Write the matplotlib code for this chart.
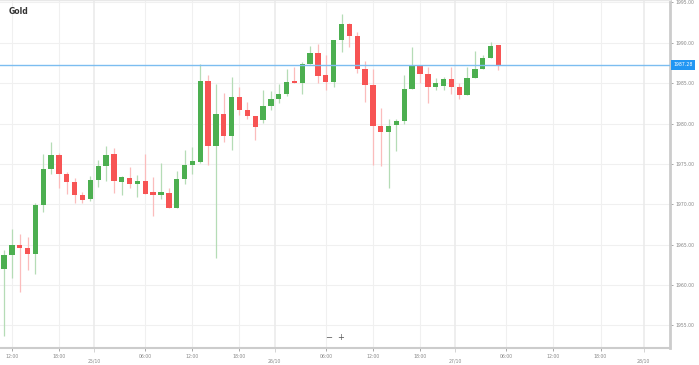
import numpy as np
import pandas as pd
import matplotlib
matplotlib.use("Agg")
import matplotlib.pyplot as plt
import matplotlib.transforms as mtransforms

# hourly OHLC, 24/10 11:00 -> 27/10 05:00 (23:00 hour is the daily break)
opens = [1962.0, 1963.7, 1965.0, 1964.6, 1963.9, 1969.9, 1974.4, 1976.1, 1973.8, 1972.8,
         1971.1, 1970.6, 1973.0, 1974.7, 1976.2, 1972.8, 1973.3, 1972.5, 1972.9, 1971.5,
         1971.2, 1971.4, 1969.6, 1973.1, 1974.9, 1975.2, 1985.3, 1977.2, 1981.2, 1978.4,
         1983.3, 1981.7, 1980.9, 1980.4, 1982.2, 1983.1, 1983.6, 1985.2, 1985.0, 1987.4,
         1988.7, 1986.0, 1985.2, 1990.3, 1992.3, 1990.8, 1986.8, 1984.8, 1979.7, 1979.0,
         1979.8, 1980.3, 1984.3, 1987.1, 1986.1, 1984.5, 1984.7, 1985.5, 1984.5, 1983.5,
         1985.6, 1986.8, 1988.1, 1989.7]
highs = [1964.3, 1966.9, 1966.3, 1966.0, 1970.2, 1976.2, 1977.7, 1976.4, 1974.0, 1973.2,
         1971.5, 1973.5, 1975.5, 1977.2, 1977.0, 1973.5, 1974.6, 1973.6, 1976.2, 1973.4,
         1975.1, 1972.0, 1974.1, 1976.7, 1977.1, 1987.4, 1986.0, 1984.9, 1983.8, 1985.8,
         1984.5, 1982.7, 1980.9, 1984.2, 1984.0, 1984.9, 1986.7, 1987.0, 1987.6, 1989.6,
         1989.9, 1988.5, 1990.4, 1993.6, 1992.4, 1991.3, 1987.7, 1986.8, 1981.9, 1980.5,
         1980.6, 1986.0, 1989.5, 1987.3, 1987.0, 1985.7, 1985.8, 1987.0, 1985.0, 1987.0,
         1989.0, 1988.5, 1990.1, 1989.7]
lows = [1953.7, 1960.9, 1959.1, 1961.9, 1961.4, 1969.1, 1973.8, 1972.0, 1971.3, 1970.1,
        1970.2, 1970.4, 1972.2, 1972.9, 1971.4, 1971.1, 1972.0, 1970.9, 1971.3, 1968.5,
        1970.7, 1969.6, 1969.6, 1972.5, 1973.8, 1975.1, 1974.9, 1963.3, 1977.7, 1976.7,
        1981.0, 1980.6, 1977.9, 1980.1, 1981.7, 1982.6, 1983.4, 1985.0, 1983.6, 1987.4,
        1985.0, 1984.2, 1984.5, 1988.9, 1989.5, 1986.2, 1982.7, 1974.9, 1974.8, 1972.0,
        1976.6, 1979.9, 1984.3, 1985.0, 1982.6, 1984.1, 1984.1, 1983.6, 1983.0, 1983.5,
        1985.6, 1986.7, 1988.1, 1986.6]
closes = [1963.7, 1965.0, 1964.6, 1963.9, 1969.9, 1974.4, 1976.1, 1973.8, 1972.8, 1971.1,
          1970.5, 1973.0, 1974.7, 1976.1, 1972.9, 1973.4, 1972.5, 1972.9, 1971.3, 1971.2,
          1971.5, 1969.6, 1973.1, 1974.9, 1975.3, 1985.3, 1977.2, 1981.2, 1978.4, 1983.3,
          1981.7, 1980.9, 1979.6, 1982.2, 1983.1, 1983.6, 1985.1, 1985.0, 1987.4, 1988.7,
          1985.9, 1985.2, 1990.3, 1992.3, 1990.8, 1986.8, 1984.8, 1979.7, 1979.0, 1979.7,
          1980.3, 1984.3, 1987.1, 1986.1, 1984.5, 1985.0, 1985.5, 1984.5, 1983.5, 1985.6,
          1986.8, 1988.1, 1989.6, 1987.28]
last_price = 1987.28

price_ticks = [1955, 1960, 1965, 1970, 1975, 1980, 1985, 1990, 1995]
time_labels = ["24/10 12:00", "24/10 18:00", "25/10 06:00", "25/10 12:00", "25/10 18:00",
               "26/10 06:00", "26/10 12:00", "26/10 18:00", "27/10 06:00", "27/10 12:00",
               "27/10 18:00"]
date_labels = ["25/10", "26/10", "27/10", "28/10"]

GREEN, RED = "#4caf50", "#f75454"
GREEN_W, RED_W = "#b5dcb6", "#fbbcbc"
GRID = "#f0f0f0"

# trading-hour calendar: hour 23 skipped, candles drawn on index positions
cal = pd.date_range("2020-10-24 11:00", "2020-10-28 12:00", freq="h")
cal = cal[cal.hour != 23]
pos = {t: i for i, t in enumerate(cal)}

def t_of(s):
    d, hm = s.split()
    day, mon = d.split("/")
    return pd.Timestamp(f"2020-{mon}-{day} {hm}")

tick_pos = [pos[t_of(s)] for s in time_labels]
tick_txt = [s.split()[1] for s in time_labels]
date_pos = [pos[t_of(d + " 00:00")] - 0.5 for d in date_labels]
date_pos[-1] += 1.0

fig = plt.figure(figsize=(6.99, 3.65), dpi=100)
ax = fig.add_axes([0, 17 / 365, 670 / 699, 348 / 365])

o = np.array(opens); h = np.array(highs); l = np.array(lows); c = np.array(closes)
x = np.arange(len(o))
up = c >= o
ax.vlines(x[up], l[up], h[up], color=GREEN_W, lw=0.9, zorder=2)
ax.vlines(x[~up], l[~up], h[~up], color=RED_W, lw=0.9, zorder=2)
body = np.maximum(np.abs(c - o), 0.22)
bottom = np.minimum(o, c)
ax.bar(x[up], body[up], bottom=bottom[up], width=0.68, color=GREEN, zorder=3)
ax.bar(x[~up], body[~up], bottom=bottom[~up], width=0.68, color=RED, zorder=3)

ax.axhline(last_price, color="#7cbdf0", lw=1.0, zorder=4)

ax.set_xlim(-0.51, 84.85)
ax.set_ylim(1952.2, 1995.3)

# grid
for p in price_ticks:
    ax.axhline(p, color=GRID, lw=0.8, zorder=0)
for p in tick_pos:
    ax.axvline(p, color=GRID, lw=0.8, zorder=0)
for p in date_pos:
    ax.axvline(p, color="#ebebeb", lw=1.2, zorder=0)

ax.yaxis.tick_right()
ax.set_yticks(price_ticks)
ax.set_yticklabels([f"{p:.2f}" for p in price_ticks])
ax.tick_params(axis="y", length=2, width=0.6, color="#999999", labelsize=3.3,
               labelcolor="#888888", pad=2)
ax.set_xticks(tick_pos)
ax.set_xticklabels(tick_txt)
ax.set_xticks(date_pos, minor=True)
ax.set_xticklabels(date_labels, minor=True)
ax.tick_params(axis="x", which="major", length=2, width=0.6, color="#999999",
               labelsize=3.3, labelcolor="#888888", pad=2.5)
ax.tick_params(axis="x", which="minor", length=3, width=0.6, color="#cccccc",
               labelsize=3.3, labelcolor="#888888", pad=4.5)

ax.spines["left"].set_visible(False)
ax.spines["top"].set_color("#e8e8e8")
ax.spines["top"].set_linewidth(1.0)
ax.spines["right"].set_color("#cccccc")
ax.spines["right"].set_linewidth(2.0)
ax.spines["bottom"].set_color("#cccccc")
ax.spines["bottom"].set_linewidth(1.5)

trans = mtransforms.blended_transform_factory(ax.transAxes, ax.transData)
ax.text(1.005, last_price, f"{last_price:.2f}", transform=trans, fontsize=3.3,
        color="white", va="center", ha="left", clip_on=False, zorder=6,
        bbox=dict(boxstyle="square,pad=0.5", fc="#2196f3", ec="none"))

fig.text(9 / 699, 1 - 12 / 365, "Gold", fontsize=5.5, fontweight="bold",
         color="#333333", va="center", ha="left")
fig.text(329 / 699, 1 - 338 / 365, "\u2212", fontsize=6, color="#555555",
         va="center", ha="center")
fig.text(341 / 699, 1 - 338 / 365, "+", fontsize=6, color="#555555",
         va="center", ha="center")

fig.savefig("out.png", dpi=100)
